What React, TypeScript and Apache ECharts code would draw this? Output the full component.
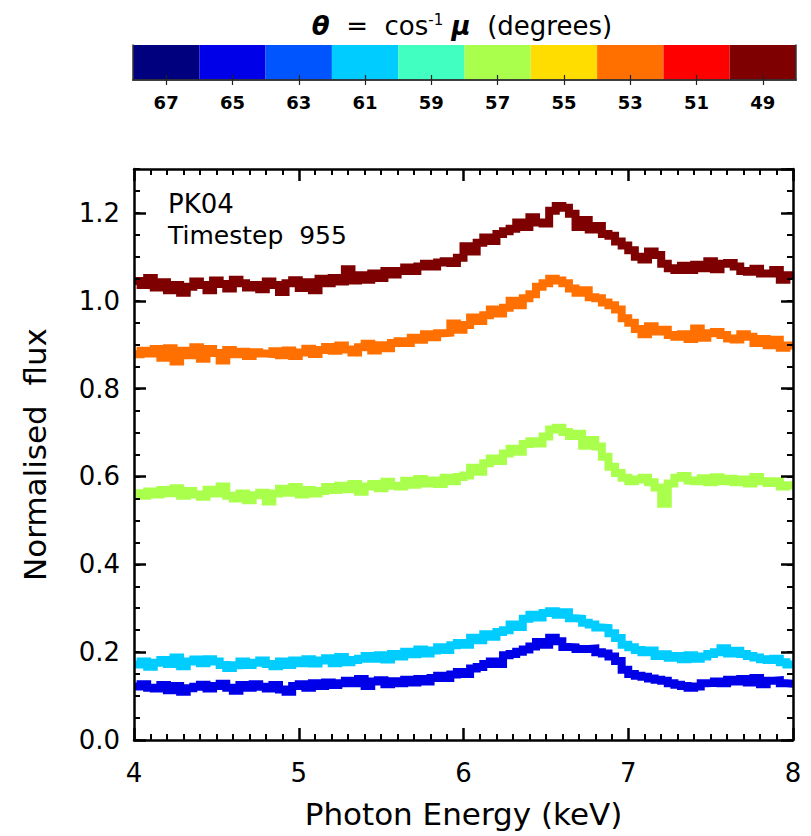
import React, { useEffect, useRef } from "react";
import * as echarts from "echarts";

// Colour bar: viewing angle bins (degrees) and their colours
const angleLabels = ["67", "65", "63", "61", "59", "57", "55", "53", "51", "49"];
const angleColors = [
  "#00007f", "#0000e8", "#0055ff", "#00ccff", "#40ffc0",
  "#aaff4d", "#ffdd00", "#ff7000", "#ff0000", "#7f0000",
];

// Energy binning (keV)
const energyMin = 4.0;
const energyMax = 8.0;
const binWidth = 0.04;

// Normalised flux per bin for each angle
const flux49 = [
  1.045, 1.036, 1.052, 1.030, 1.042, 1.024, 1.036, 1.018, 1.032, 1.044,
  1.036, 1.024, 1.046, 1.038, 1.028, 1.048, 1.040, 1.030, 1.036, 1.026,
  1.044, 1.036, 1.020, 1.040, 1.047, 1.029, 1.042, 1.024, 1.050, 1.040,
  1.052, 1.044, 1.072, 1.046, 1.058, 1.048, 1.062, 1.052, 1.068, 1.060,
  1.068, 1.076, 1.068, 1.078, 1.084, 1.078, 1.087, 1.090, 1.086, 1.098,
  1.124, 1.112, 1.132, 1.144, 1.136, 1.152, 1.158, 1.164, 1.178, 1.168,
  1.190, 1.178, 1.176, 1.205, 1.216, 1.212, 1.198, 1.168, 1.184, 1.162,
  1.170, 1.152, 1.148, 1.135, 1.126, 1.115, 1.100, 1.094, 1.112, 1.104,
  1.084, 1.074, 1.070, 1.080, 1.070, 1.082, 1.074, 1.090, 1.072, 1.084,
  1.086, 1.078, 1.068, 1.066, 1.073, 1.062, 1.062, 1.070, 1.048, 1.058,
];

const flux53 = [
  0.878, 0.886, 0.880, 0.890, 0.870, 0.892, 0.862, 0.886, 0.876, 0.894,
  0.868, 0.890, 0.881, 0.864, 0.888, 0.878, 0.884, 0.874, 0.883, 0.880,
  0.879, 0.885, 0.876, 0.887, 0.874, 0.882, 0.891, 0.879, 0.888, 0.895,
  0.886, 0.898, 0.889, 0.882, 0.894, 0.902, 0.887, 0.899, 0.892, 0.904,
  0.908, 0.904, 0.916, 0.911, 0.924, 0.917, 0.926, 0.927, 0.948, 0.934,
  0.945, 0.962, 0.954, 0.967, 0.980, 0.971, 0.984, 1.000, 0.990, 1.006,
  1.015, 1.032, 1.040, 1.050, 1.046, 1.040, 1.028, 1.018, 1.024, 1.008,
  1.006, 0.996, 0.990, 0.980, 0.960, 0.950, 0.936, 0.924, 0.942, 0.930,
  0.934, 0.922, 0.918, 0.924, 0.913, 0.937, 0.916, 0.926, 0.929, 0.922,
  0.914, 0.912, 0.924, 0.918, 0.904, 0.913, 0.899, 0.911, 0.893, 0.898,
];

const flux57 = [
  0.562, 0.556, 0.566, 0.559, 0.569, 0.562, 0.573, 0.556, 0.567, 0.559,
  0.554, 0.570, 0.561, 0.577, 0.556, 0.550, 0.561, 0.546, 0.557, 0.563,
  0.543, 0.561, 0.572, 0.563, 0.576, 0.559, 0.569, 0.561, 0.567, 0.576,
  0.569, 0.579, 0.571, 0.583, 0.565, 0.577, 0.583, 0.573, 0.588, 0.579,
  0.577, 0.590, 0.581, 0.594, 0.584, 0.591, 0.583, 0.597, 0.589, 0.599,
  0.602, 0.620, 0.611, 0.630, 0.641, 0.635, 0.652, 0.663, 0.656, 0.674,
  0.680, 0.675, 0.691, 0.707, 0.711, 0.701, 0.692, 0.697, 0.670, 0.683,
  0.668, 0.645, 0.622, 0.608, 0.597, 0.589, 0.593, 0.597, 0.587, 0.575,
  0.538, 0.584, 0.597, 0.601, 0.591, 0.589, 0.596, 0.587, 0.598, 0.589,
  0.595, 0.587, 0.593, 0.584, 0.599, 0.589, 0.585, 0.589, 0.577, 0.580,
];

const flux61 = [
  0.172, 0.179, 0.167, 0.176, 0.182, 0.173, 0.188, 0.168, 0.179, 0.183,
  0.175, 0.184, 0.179, 0.171, 0.164, 0.170, 0.179, 0.171, 0.176, 0.181,
  0.173, 0.168, 0.179, 0.171, 0.181, 0.175, 0.184, 0.174, 0.181, 0.186,
  0.175, 0.189, 0.177, 0.182, 0.185, 0.191, 0.185, 0.193, 0.183, 0.196,
  0.190, 0.201, 0.195, 0.206, 0.197, 0.204, 0.211, 0.205, 0.216, 0.221,
  0.217, 0.233, 0.227, 0.241, 0.235, 0.246, 0.250, 0.263, 0.257, 0.276,
  0.285, 0.279, 0.289, 0.293, 0.285, 0.291, 0.277, 0.276, 0.267, 0.263,
  0.256, 0.255, 0.243, 0.232, 0.217, 0.211, 0.205, 0.200, 0.204, 0.191,
  0.195, 0.187, 0.191, 0.184, 0.193, 0.185, 0.190, 0.196, 0.200, 0.209,
  0.197, 0.203, 0.196, 0.191, 0.188, 0.184, 0.182, 0.185, 0.177, 0.172,
];

const flux65 = [
  0.122, 0.127, 0.119, 0.117, 0.125, 0.113, 0.123, 0.110, 0.118, 0.121,
  0.126, 0.117, 0.123, 0.128, 0.119, 0.112, 0.125, 0.119, 0.127, 0.121,
  0.117, 0.125, 0.115, 0.110, 0.123, 0.127, 0.119, 0.129, 0.123, 0.131,
  0.125, 0.129, 0.135, 0.129, 0.139, 0.123, 0.133, 0.136, 0.127, 0.134,
  0.129, 0.137, 0.131, 0.139, 0.133, 0.141, 0.146, 0.141, 0.149, 0.155,
  0.150, 0.163, 0.166, 0.173, 0.179, 0.173, 0.193, 0.196, 0.201, 0.206,
  0.213, 0.223, 0.217, 0.233, 0.225, 0.212, 0.211, 0.207, 0.207, 0.208,
  0.200, 0.197, 0.190, 0.180, 0.160, 0.150, 0.146, 0.144, 0.140, 0.137,
  0.135, 0.129, 0.126, 0.123, 0.119, 0.122, 0.129, 0.130, 0.133, 0.129,
  0.137, 0.133, 0.139, 0.131, 0.141, 0.127, 0.135, 0.136, 0.129, 0.128,
];

const spectra = [
  { angle: "65", values: flux65 },
  { angle: "61", values: flux61 },
  { angle: "57", values: flux57 },
  { angle: "53", values: flux53 },
  { angle: "49", values: flux49 },
];

const FONT = "DejaVu Sans";

// Turn bin values into a histogram: each bin starts at its lower edge and
// the last bin is closed at the upper energy limit.
function histogram(values: number[]): number[][] {
  const pts = values.map((v, i) => [+(energyMin + i * binWidth).toFixed(2), v]);
  pts.push([energyMax, values[values.length - 1]]);
  return pts;
}

const black = "#000";

export default function App() {
  const ref = useRef<HTMLDivElement>(null);

  useEffect(() => {
    if (!ref.current) return;
    const chart = echarts.init(ref.current, null, { renderer: "svg" });

    const frameY = (position: "left" | "right") => ({
      gridIndex: 0,
      type: "value",
      min: 0,
      max: 1,
      position,
      axisLine: { show: true, onZero: false, lineStyle: { color: "#333", width: 1.5 } },
      axisTick: { show: false },
      axisLabel: { show: false },
      splitLine: { show: false },
      z: 5,
    });

    const mainX = (position: "top" | "bottom", labels: boolean) => ({
      gridIndex: 1,
      type: "value",
      min: energyMin,
      max: energyMax,
      interval: 1,
      position,
      axisLine: { show: true, onZero: false, lineStyle: { color: black, width: 2.5 } },
      axisTick: { show: true, inside: true, length: 12, lineStyle: { color: black, width: 2.5 } },
      minorTick: { show: true, splitNumber: 10, length: 6, lineStyle: { color: black, width: 2 } },
      axisLabel: { show: labels, fontSize: 26, fontFamily: FONT, color: black, margin: 20 },
      splitLine: { show: false },
      name: labels ? "Photon Energy (keV)" : "",
      nameLocation: "middle",
      nameGap: 58,
      nameTextStyle: { fontSize: 31, fontFamily: FONT, color: black },
      z: 5,
    });

    const mainY = (position: "left" | "right", labels: boolean, minor: boolean) => ({
      gridIndex: 1,
      type: "value",
      min: 0,
      max: 1.3,
      interval: minor ? 0.05 : 0.2,
      position,
      axisLine: { show: !minor, onZero: false, lineStyle: { color: black, width: 2.5 } },
      axisTick: {
        show: true,
        inside: true,
        length: minor ? 6 : 12,
        lineStyle: { color: black, width: minor ? 2 : 2.5 },
      },
      axisLabel: {
        show: labels,
        showMaxLabel: false,
        fontSize: 26,
        fontFamily: FONT,
        color: black,
        margin: 14,
        formatter: (v: number) => v.toFixed(1),
      },
      splitLine: { show: false },
      name: labels ? "Normalised  flux" : "",
      nameLocation: "middle",
      nameGap: 84,
      nameTextStyle: { fontSize: 31, fontFamily: FONT, color: black },
      z: 5,
    });

    const option = {
      animation: false,
      backgroundColor: "#fff",
      textStyle: { fontFamily: FONT },
      grid: [
        { left: 133, right: 15, top: 45, height: 35 },
        { left: 134, right: 18, top: 169, bottom: 96 },
      ],
      xAxis: [
        {
          gridIndex: 0,
          type: "category",
          data: angleLabels,
          position: "bottom",
          boundaryGap: true,
          axisLine: { show: true, lineStyle: { color: "#333", width: 1.5 } },
          axisTick: { show: true, inside: true, alignWithLabel: true, length: 5, lineStyle: { color: "#222", width: 1.2 } },
          axisLabel: { fontSize: 18, fontWeight: "bold", fontFamily: FONT, color: black, margin: 13 },
          splitLine: { show: false },
          z: 5,
        },
        {
          gridIndex: 0,
          type: "category",
          data: angleLabels,
          position: "top",
          boundaryGap: true,
          axisLine: { show: true, lineStyle: { color: "#333", width: 1.5 } },
          axisTick: { show: true, inside: true, alignWithLabel: true, length: 5, lineStyle: { color: "#222", width: 1.2 } },
          axisLabel: { show: false },
          splitLine: { show: false },
          z: 5,
        },
        mainX("bottom", true),
        mainX("top", false),
      ],
      yAxis: [
        frameY("left"),
        frameY("right"),
        mainY("left", true, false),
        mainY("left", false, true),
        mainY("right", false, false),
        mainY("right", false, true),
      ],
      graphic: [
        {
          type: "text",
          x: 462,
          y: 26,
          style: {
            text: "{g|θ}  =  cos{s|-1} {g|μ}  (degrees)",
            align: "center",
            verticalAlign: "middle",
            font: `26px "${FONT}"`,
            fill: black,
            rich: {
              g: { fontSize: 26, fontStyle: "italic", fontWeight: "bold", fontFamily: FONT, fill: black },
              s: { fontSize: 15, fontFamily: FONT, verticalAlign: "top", lineHeight: 28, fill: black },
            },
          },
        },
        {
          type: "text",
          x: 168,
          y: 204,
          style: { text: "PK04", font: `26px "${FONT}"`, fill: black, verticalAlign: "middle" },
        },
        {
          type: "text",
          x: 168,
          y: 235,
          style: { text: "Timestep  955", font: `25px "${FONT}"`, fill: black, verticalAlign: "middle" },
        },
      ],
      series: [
        {
          type: "bar",
          xAxisIndex: 0,
          yAxisIndex: 0,
          barWidth: "100%",
          barCategoryGap: 0,
          data: angleLabels.map((_, i) => ({ value: 1, itemStyle: { color: angleColors[i] } })),
          silent: true,
        },
        ...spectra.map((s) => ({
          type: "line",
          name: s.angle,
          xAxisIndex: 2,
          yAxisIndex: 2,
          step: "end",
          showSymbol: false,
          symbol: "none",
          clip: true,
          data: histogram(s.values),
          lineStyle: { color: angleColors[angleLabels.indexOf(s.angle)], width: 8, join: "miter", cap: "butt" },
        })),
      ],
    };

    chart.setOption(option as any);
    return () => chart.dispose();
  }, []);

  return (
    <div
      ref={ref}
      style={{ position: "fixed", left: 0, top: 0, width: 811, height: 836, background: "#fff" }}
    />
  );
}
